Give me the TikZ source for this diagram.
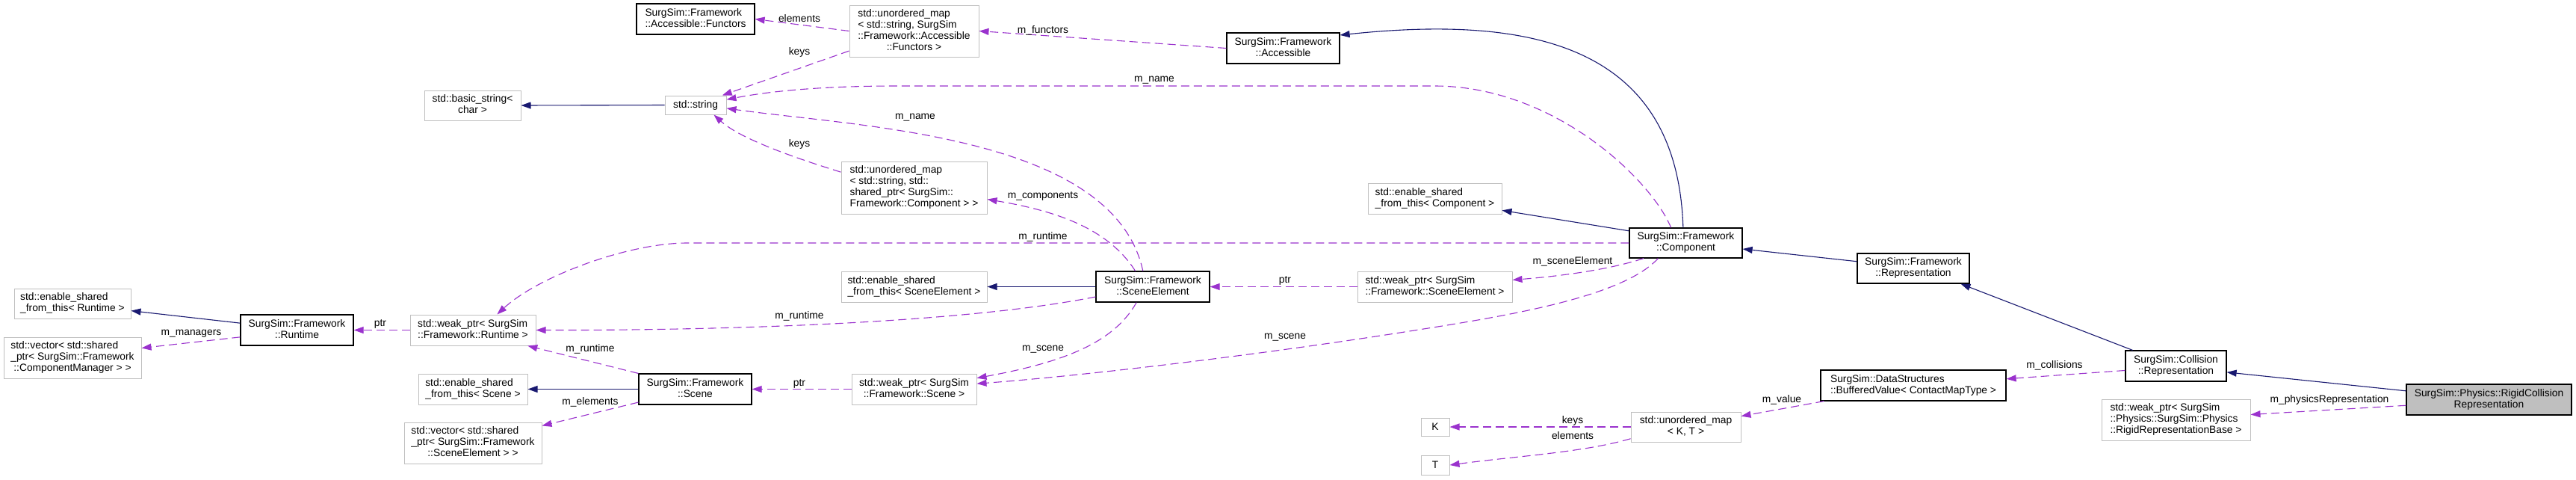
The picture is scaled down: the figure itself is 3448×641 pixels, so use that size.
\documentclass[tikz,border=0pt]{standalone}
\usepackage{fontspec}
\setmainfont{Liberation Sans}
\usetikzlibrary{arrows.meta}
\definecolor{inhblue}{RGB}{25,25,112}
\definecolor{memviolet}{RGB}{154,50,205}
\definecolor{extgray}{RGB}{191,191,191}
\definecolor{curgray}{RGB}{191,191,191}
% doxygen style label: lines flush left, last line centred
\newcommand{\dlines}[2]{\begin{tabular}{@{}l@{}}#1\\\multicolumn{1}{@{}c@{}}{#2}\end{tabular}}

\begin{document}
\begin{tikzpicture}[
  x=1pt, y=-1pt,
  font=\fontsize{13.8}{15}\selectfont,
  sz/.style 2 args={minimum width=#1, minimum height=#2},
  cls/.style={draw=black, line width=1.2pt, fill=white, inner sep=0pt},
  ext/.style={draw=extgray, line width=1pt, fill=white, inner sep=0pt},
  cur/.style={cls, fill=curgray},
  inh/.style={-{Triangle[length=13pt,width=9pt]}, draw=inhblue, line width=1.1pt},
  mem/.style={-{Triangle[length=13pt,width=9pt]}, draw=memviolet, line width=1.1pt,
              dash pattern=on 11pt off 6pt},
  lbl/.style={inner sep=0pt}
]
\useasboundingbox (0,0) rectangle (3448,641);

% ---- top rows
\node[cls, sz={158}{41}] (functors) at (931,25.5)
  {\dlines{SurgSim::Framework}{::Accessible::Functors}};
\node[ext, sz={173}{69}] (fmap) at (1223.5,41.5)
  {\dlines{std::unordered\_map\\< std::string, SurgSim\\::Framework::Accessible}{::Functors >}};
\node[cls, sz={151}{41}] (accessible) at (1717.5,64.5)
  {\dlines{SurgSim::Framework}{::Accessible}};
\node[ext, sz={129}{40}] (bstring) at (632.5,141)
  {\dlines{std::basic\_string<}{char >}};
\node[ext, sz={82}{25}] (string) at (931,140.5) {std::string};
\node[ext, sz={195}{70}] (cmap) at (1223.5,251)
  {\dlines{std::unordered\_map\\< std::string, std::\\shared\_ptr< SurgSim::}{Framework::Component > >}};
\node[ext, sz={179}{41}] (esftcomp) at (1920.5,265.5)
  {\dlines{std::enable\_shared}{\_from\_this< Component >}};
\node[cls, sz={151}{40}] (comp) at (2256.5,325)
  {\dlines{SurgSim::Framework}{::Component}};

% ---- runtime / scene element row
\node[ext, sz={156}{40}] (esftrt) at (97,406)
  {\dlines{std::enable\_shared}{\_from\_this< Runtime >}};
\node[cls, sz={151}{41}] (runtime) at (397.5,441.5)
  {\dlines{SurgSim::Framework}{::Runtime}};
\node[ext, sz={168}{41}] (wprt) at (633,441.5)
  {\dlines{std::weak\_ptr< SurgSim}{::Framework::Runtime >}};
\node[ext, sz={184}{55}] (vcm) at (97,478.5)
  {\dlines{std::vector< std::shared\\\_ptr< SurgSim::Framework}{::ComponentManager > >}};
\node[ext, sz={195}{41}] (esftse) at (1223.5,383.5)
  {\dlines{std::enable\_shared}{\_from\_this< SceneElement >}};
\node[cls, sz={152}{41}] (scel) at (1543,383.5)
  {\dlines{SurgSim::Framework}{::SceneElement}};
\node[ext, sz={207}{41}] (wpse) at (1920.5,383.5)
  {\dlines{std::weak\_ptr< SurgSim}{::Framework::SceneElement >}};
\node[cls, sz={150}{40}] (rep) at (2561,359)
  {\dlines{SurgSim::Framework}{::Representation}};

% ---- scene row
\node[ext, sz={146}{41}] (esftsc) at (633,520.5)
  {\dlines{std::enable\_shared}{\_from\_this< Scene >}};
\node[cls, sz={151}{41}] (scene) at (930.5,520.5)
  {\dlines{SurgSim::Framework}{::Scene}};
\node[ext, sz={167}{41}] (wpsc) at (1223.5,520.5)
  {\dlines{std::weak\_ptr< SurgSim}{::Framework::Scene >}};
\node[ext, sz={184}{55}] (vse) at (633,592.5)
  {\dlines{std::vector< std::shared\\\_ptr< SurgSim::Framework}{::SceneElement > >}};

% ---- collision side
\node[cls, sz={135}{41}] (coll) at (2912.5,489.5)
  {\dlines{SurgSim::Collision}{::Representation}};
\node[cls, sz={248}{41}] (bval) at (2561,515.5)
  {\dlines{SurgSim::DataStructures}{::BufferedValue< ContactMapType >}};
\node[cur, sz={221}{41}] (rigid) at (3331.5,534.5)
  {\dlines{SurgSim::Physics::RigidCollision}{Representation}};
\node[ext, sz={199}{55}] (wprrb) at (2912.5,561.5)
  {\dlines{std::weak\_ptr< SurgSim\\::Physics::SurgSim::Physics}{::RigidRepresentationBase >}};
\node[ext, sz={147}{40}] (kmap) at (2256.5,571)
  {\dlines{std::unordered\_map}{< K, T >}};
\node[ext, sz={38}{24}] (knode) at (1921,571) {K};
\node[ext, sz={38}{26}] (tnode) at (1921,622) {T};

% ---- inheritance
\draw[inh] (string.west) -- (bstring.east);
\draw[inh] (comp.100) .. controls (2245,60) and (2050,20) .. (accessible.13);
\draw[inh] (comp.168) -- (esftcomp.-10);
\draw[inh] (runtime.173) -- (esftrt.-7);
\draw[inh] (scel.west) -- (esftse.east);
\draw[inh] (scene.west) -- (esftsc.east);
\draw[inh] (rep.173) -- (comp.-6);
\draw[inh] (coll.160) -- (rep.-18);
\draw[inh] (rigid.174) -- (coll.-7);

% ---- members
\draw[mem] (fmap.west) -- (functors.east) node[lbl] at (1070,25) {elements};
\draw[mem] (accessible.west) -- (fmap.east) node[lbl] at (1396,41) {m\_functors};
\draw[mem] (fmap.197) -- (string.20) node[lbl] at (1070,70) {keys};
\draw[mem] (comp.134) .. controls (2210,240) and (2080,115) .. (1920,115)
  -- (1200,115) .. controls (1100,115) and (1030,122) .. (string.10)
  node[lbl] at (1545,107) {m\_name};
\draw[mem] (scel.122) .. controls (1490,180) and (1150,170) .. (string.-6)
  node[lbl] at (1225,157) {m\_name};
\draw[mem] (cmap.168) .. controls (1060,210) and (990,185) .. (string.-28)
  node[lbl] at (1070,193) {keys};
\draw[mem] (scel.138) .. controls (1480,300) and (1400,280) .. (cmap.-9)
  node[lbl] at (1396,262) {m\_components};
\draw[mem] (comp.west) -- (920,325) .. controls (840,325) and (720,370) .. (wprt.33)
  node[lbl] at (1396,317) {m\_runtime};
\draw[mem] (scel.190) .. controls (1300,430) and (1000,442) .. (wprt.east)
  node[lbl] at (1070,423) {m\_runtime};
\draw[mem] (wprt.west) -- (runtime.east) node[lbl] at (509,433) {ptr};
\draw[mem] (runtime.187) -- (vcm.8) node[lbl] at (256,446) {m\_managers};
\draw[mem] (scene.north west) -- (wprt.-16) node[lbl] at (790,467) {m\_runtime};
\draw[mem] (wpsc.west) -- (scene.east) node[lbl] at (1070,513) {ptr};
\draw[mem] (scene.193) -- (vse.14) node[lbl] at (790,538) {m\_elements};
\draw[mem] (scel.224) .. controls (1490,460) and (1420,485) .. (wpsc.10)
  node[lbl] at (1396,467) {m\_scene};
\draw[mem] (comp.209) .. controls (2170,400) and (2000,425) .. (1880,444)
  .. controls (1650,480) and (1420,505) .. (wpsc.5)
  node[lbl] at (1720,451) {m\_scene};
\draw[mem] (wpse.west) -- (scel.east) node[lbl] at (1720,375) {ptr};
\draw[mem] (comp.200) .. controls (2150,362) and (2080,370) .. (wpse.5)
  node[lbl] at (2105,350) {m\_sceneElement};
\draw[mem] (coll.185) -- (bval.4) node[lbl] at (2750,489) {m\_collisions};
\draw[mem] (rigid.184) -- (wprrb.4) node[lbl] at (3118,535) {m\_physicsRepresentation};
\draw[mem] (bval.190) -- (kmap.11) node[lbl] at (2385,535) {m\_value};
\draw[mem] (kmap.west) -- (knode.east) node[lbl] at (2105,563) {keys};
\draw[mem] (kmap.192) .. controls (2120,605) and (2030,610) .. (tnode.east)
  node[lbl] at (2105,583) {elements};
\end{tikzpicture}
\end{document}
